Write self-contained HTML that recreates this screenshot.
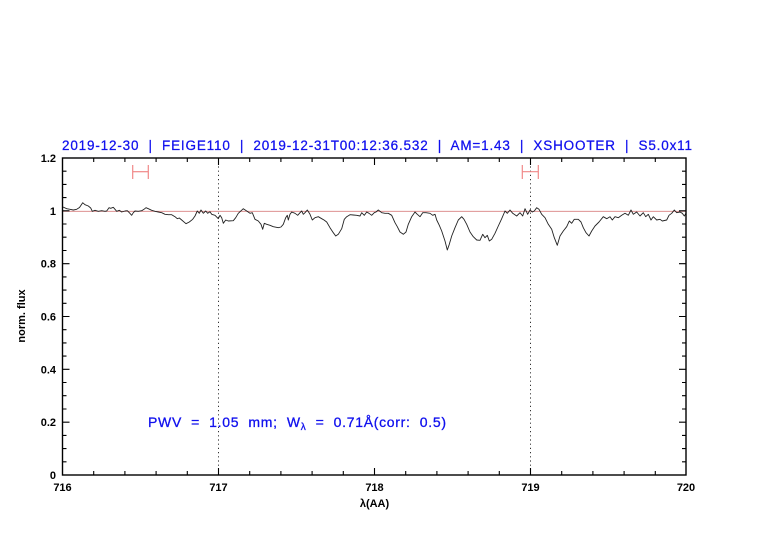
<!DOCTYPE html>
<html><head><meta charset="utf-8"><style>
html,body{margin:0;padding:0;background:#fff;}
svg{display:block;}
text{font-family:"Liberation Sans",sans-serif;}
</style></head><body>
<svg width="782" height="542" viewBox="0 0 782 542" xmlns="http://www.w3.org/2000/svg">
<rect width="782" height="542" fill="#fff"/>
<!-- title -->
<text x="62" y="150" font-size="13.5" fill="#1010ee" stroke="#1010ee" stroke-width="0.25" textLength="630" lengthAdjust="spacing" xml:space="preserve">2019-12-30  |  FEIGE110  |  2019-12-31T00:12:36.532  |  AM=1.43  |  XSHOOTER  |  S5.0x11</text>

<!-- reference line at 1 -->
<line x1="62.5" y1="211.3" x2="686" y2="211.3" stroke="#d98080" stroke-width="0.9"/>

<!-- dotted verticals -->
<line x1="218.5" y1="158" x2="218.5" y2="475" stroke="#000" stroke-width="0.8" stroke-dasharray="1.2,3"/>
<line x1="530.5" y1="158" x2="530.5" y2="475" stroke="#000" stroke-width="0.8" stroke-dasharray="1.2,3"/>

<!-- error bars -->
<g stroke="#f08888" stroke-width="1.2" fill="none">
<line x1="132.7" y1="171.7" x2="148.3" y2="171.7"/>
<line x1="132.7" y1="165" x2="132.7" y2="179"/>
<line x1="148.3" y1="165" x2="148.3" y2="179"/>
<line x1="522.3" y1="171.7" x2="538.3" y2="171.7"/>
<line x1="522.3" y1="165" x2="522.3" y2="179"/>
<line x1="538.3" y1="165" x2="538.3" y2="179"/>
</g>

<!-- spectrum -->
<polyline fill="none" stroke="#222" stroke-width="0.9" stroke-linejoin="round" points="
63,207 66.7,208.7 70,209.3 73.3,210 76.7,209.3 79.5,207.5 82.7,202.7 85,204.7 88.3,206 90.7,208 92.3,211.3 95,210.3 98.3,211.3 101.7,210.7 105,211.3 106.7,211 109,207.7 110.7,208.3 113.3,207.3 115,209.3 116.7,211.3 119.3,210.3 121.7,212 125,211 127.3,210.7 129.3,212.7 131.7,215.3 133.3,212.7 135,211 138.3,211.3 141.7,210.7 144,209.3 146,207.7 148.3,208.7 151.7,210.3 155,211.3 158.3,212 161.7,212.7 165,214.3 168.3,214.7 171.7,214.7 175,216.7 177.3,218.7 179.3,218 181.7,220 186,223.7 189.3,222 192.7,219.3 195,216 197.3,211 199.3,213.3 201,210 203.3,213.3 205.7,211 207.7,213.3 210,211.7 211.7,214.3 215,215.3 218.3,218.7 220,215.3 221.7,217.7 223.3,223.3 225.7,220 228.3,221 233.3,220.7 235.7,217.7 238.3,213.3 243.3,208.7 246.7,211 250,213.3 252.3,212.7 255,219.3 258.3,221 261,224.3 262.7,229.3 264.3,223.3 266.7,224.3 270,225.3 273.3,226.7 278.3,227.7 281,227 283.3,224.3 285.7,217.7 287.3,215.3 288.3,220 290,214.3 291.7,212 295,213.3 297.7,215.3 300,212.7 301.7,211 303.3,214.3 305,212.7 307.3,210 310,214.3 312.3,220 315,217.7 318.3,216.7 321.7,218.7 324,220 326.7,222 330,227.7 333.3,232.7 335.7,236 338.3,234.3 341.7,228.7 344.3,219.3 346.7,216.7 350,214.7 353.3,215 356.7,215.3 360,216 361.7,212.7 364.3,215.3 366.7,212 369,213.3 371.7,215.3 374.3,212.7 376,212 378.3,210 381.7,212.7 385,213.3 388.3,213.3 391.7,215.3 395,222.7 397.3,226.7 400,232 403.3,234.3 406,232 408.3,224.3 411.7,216.7 415,212 417.3,214.3 420,216.7 422.7,212.7 426,212.7 430,213.3 432.7,215.3 435,214.3 436.7,220 439.3,225.3 441.7,231 445,241 447.3,250 449.3,244.3 451.7,236 455,227.7 458.3,220 461.7,216.7 464,219.3 466.7,224.3 470,232 473.3,236.7 476.7,240 480,240.3 482.7,234.3 485,237.7 487.3,235.3 489.3,241 491.7,239.3 495,233.3 498.3,226 501.7,218.7 505,211 507.3,213.3 510,210 512.7,213.3 516.7,216 520,212.7 522.7,216 525,208.7 527.7,214.3 530,210 532.3,212 534.3,211 536.7,207.7 539,209.3 541.7,214.3 545,217.7 548.3,224.3 551.7,229.3 554.3,237.7 557.3,245.3 560,236 563.3,231 566.7,226.7 569.3,221 571.7,223.3 574.3,219.3 578.3,219.3 581,222 583.3,227.7 586,232.7 589,236 591.7,231 595,226 599,222 603.3,216.7 606.7,218.7 610,216.7 612.3,220 615,216.7 618.3,217.7 621.7,215.3 625,213.3 628.3,215.3 631,210 633.3,214.3 636.7,212 640,216 643.3,212.7 645.7,216.7 648.3,214.3 651,220 653.3,216.7 656.7,220 660,219.3 662.3,221 666.7,220 669,215.3 671.7,213.3 674.3,210 676.7,212.7 680,212 682.3,213.3 684.3,216 686,213.3"/>

<!-- axes frame -->
<rect x="62.5" y="158" width="623.5" height="317" fill="none" stroke="#000" stroke-width="1.4"/>

<!-- ticks -->
<g stroke="#000" stroke-width="1.1">
<path d="M218.5,475v-7M374.5,475v-7M530.5,475v-7"/>
<path d="M93.7,475v-4M124.9,475v-4M156.1,475v-4M187.3,475v-4M249.7,475v-4M280.9,475v-4M312.1,475v-4M343.3,475v-4M405.7,475v-4M436.9,475v-4M468.1,475v-4M499.3,475v-4M561.7,475v-4M592.9,475v-4M624.1,475v-4M655.3,475v-4"/>
<path d="M218.5,158v7M374.5,158v7M530.5,158v7"/>
<path d="M93.7,158v4M124.9,158v4M156.1,158v4M187.3,158v4M249.7,158v4M280.9,158v4M312.1,158v4M343.3,158v4M405.7,158v4M436.9,158v4M468.1,158v4M499.3,158v4M561.7,158v4M592.9,158v4M624.1,158v4M655.3,158v4"/>
<path d="M62.5,422.2h7M62.5,369.3h7M62.5,316.5h7M62.5,263.7h7M62.5,210.8h7"/>
<path d="M62.5,461.8h4M62.5,448.6h4M62.5,435.4h4M62.5,409h4M62.5,395.7h4M62.5,382.5h4M62.5,356.1h4M62.5,342.9h4M62.5,329.7h4M62.5,303.3h4M62.5,290.1h4M62.5,276.9h4M62.5,250.5h4M62.5,237.2h4M62.5,224h4M62.5,197.6h4M62.5,184.4h4M62.5,171.2h4"/>
<path d="M686,422.2h-7M686,369.3h-7M686,316.5h-7M686,263.7h-7M686,210.8h-7"/>
<path d="M686,461.8h-4M686,448.6h-4M686,435.4h-4M686,409h-4M686,395.7h-4M686,382.5h-4M686,356.1h-4M686,342.9h-4M686,329.7h-4M686,303.3h-4M686,290.1h-4M686,276.9h-4M686,250.5h-4M686,237.2h-4M686,224h-4M686,197.6h-4M686,184.4h-4M686,171.2h-4"/>
</g>

<!-- x tick labels -->
<g font-size="11" font-weight="bold" fill="#000" text-anchor="middle">
<text x="62.5" y="491">716</text>
<text x="218.5" y="491">717</text>
<text x="374.5" y="491">718</text>
<text x="530.5" y="491">719</text>
<text x="686" y="491">720</text>
</g>
<text x="374.5" y="507" font-size="11" font-weight="bold" text-anchor="middle" fill="#000">λ(AA)</text>

<!-- y tick labels -->
<g font-size="11" font-weight="bold" fill="#000" text-anchor="end">
<text x="56" y="479">0</text>
<text x="56" y="426">0.2</text>
<text x="56" y="373.3">0.4</text>
<text x="56" y="320.5">0.6</text>
<text x="56" y="267.7">0.8</text>
<text x="56" y="215">1</text>
<text x="56" y="162">1.2</text>
</g>
<text transform="translate(25,316) rotate(-90)" font-size="11" font-weight="bold" text-anchor="middle" fill="#000">norm. flux</text>

<!-- PWV annotation -->
<text x="148" y="427" font-size="14" fill="#1010ee" stroke="#1010ee" stroke-width="0.3" textLength="298" lengthAdjust="spacing" xml:space="preserve">PWV  =  1.05  mm;  W<tspan font-size="10" dy="3">λ</tspan><tspan dy="-3">  =  0.71Å(corr:  0.5)</tspan></text>
</svg>
</body></html>
